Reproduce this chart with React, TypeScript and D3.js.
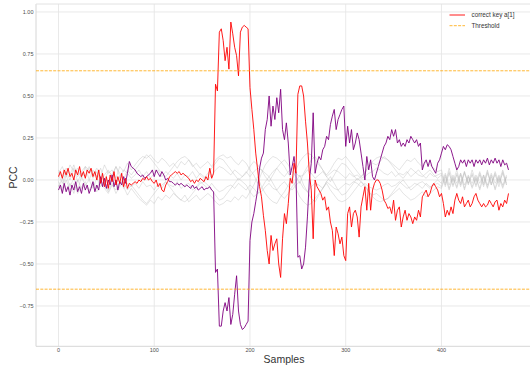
import React from 'react';
import * as d3 from 'd3';

const W = 530;
const H = 366;

const xTicks = [0, 100, 200, 300, 400];
const yTicks = [-0.75, -0.5, -0.25, 0, 0.25, 0.5, 0.75, 1.0];
const yTickLabels = ['\u22120.75', '\u22120.50', '\u22120.25', '0.00', '0.25', '0.50', '0.75', '1.00'];
const threshold = 0.65;
const nSamples = 471;

// correct key a[1] (red), PCC x100 at samples 0,2,4,...,470
const redVals = [
  2, 5, 1, 6, 3, 7, 2, 4, 0, 6,
  3, 8, 2, 5, 1, 6, 4, 7, 2, 5,
  0, 6, -2, 4, -4, 2, -5, 3, -1, 5,
  -3, 2, -2, 4, -4, 1, -5, -2, -3, -2,
  -1, -2, 0, -1, 1, 0, 2, 0, 1, -1,
  -2, 0, -4, -2, -6, -7, -3, -1, 2, 3,
  4, 5, 4, 5, 3, 4, 3, 2, 1, -1,
  0, -2, 0, -1, 1, 0, -1, 2, 0, 7,
  1, 4, 57, 53, 88, 90, 83, 71, 79, 66,
  94, 87, 79, 74, 62, 88, 91, 92, 91, 90,
  55, 42, 30, 16, 6, -4, -10, -21, -30, -42,
  -50, -33, -42, -38, -35, -50, -58, -35, -20, -26,
  -14, 1, -2, 10, 4, 51, 56, 56, 50, 35,
  22, 4, -6, -35, 0, -4, -6, -8, -12, -10,
  -18, -16, -25, -30, -45, -28, -32, -38, -34, -45,
  -48, -20, -16, -28, -20, -18, -22, -34, -16, -10,
  -4, -18, -2, -18, -6, -2, 0, 0, -2, -6,
  -12, -14, -17, -16, -20, -12, -24, -18, -16, -28,
  -22, -18, -24, -20, -22, -26, -22, -24, -18, -22,
  -10, -8, -6, -10, -8, -4, -2, -4, -6, -10,
  -8, -14, -22, -18, -21, -16, -20, -12, -8, -12,
  -14, -10, -16, -14, -12, -16, -14, -10, -8, -12,
  -14, -16, -14, -16, -15, -12, -14, -16, -13, -12,
  -18, -14, -16, -12, -14, -8,
];

// other key (purple), PCC x100 at samples 0,2,4,...,470
const purpleVals = [
  -6, -3, -8, -2, -7, -4, -9, -3, -6, -1,
  -7, -4, -8, -2, -6, -3, -8, -5, -1, -7,
  -3, -6, 2, -4, 1, -5, 0, -3, 3, -4,
  0, -6, -1, -3, 2, -2, 4, 11, 8, 7,
  6, 4, 3, 2, 3, 1, 2, 3, 4, 6,
  2, 6, 4, 2, 5, 3, 0, 1, -1, -1,
  -2, -3, -2, -3, -2, -3, -4, -3, -4, -5,
  -3, -5, -4, -6, -5, -4, -6, -5, -5, -4,
  -6, -7, -55, -53, -87, -87, -78, -73, -78, -70,
  -86, -80, -68, -57, -78, -86, -89, -88, -86, -84,
  -36, -25, -20, -13, -6, 7, 13, 16, 30, 36,
  50, 32, 44, 36, 49, 40, 54, 30, 24, 34,
  22, 3, 8, 14, 4, -46, -45, -53, -50, -40,
  -22, 0, 10, 40, 4, 10, 14, 12, 18, 20,
  26, 24, 33, 38, 42, 30, 36, 39, 42, 44,
  20, 32, 22, 30, 18, 22, 28, 24, 16, 8,
  0, 14, 6, 12, 2, 0, 4, 8, 12, 16,
  20, 22, 26, 24, 30, 26, 30, 22, 24, 20,
  22, 20, 24, 22, 26, 24, 22, 24, 20, 22,
  6, 10, 12, 8, 12, 8, 6, 4, 10, 12,
  16, 20, 18, 21, 20, 18, 14, 10, 6, 8,
  12, 10, 12, 8, 12, 10, 12, 8, 12, 10,
  12, 9, 12, 10, 13, 9, 12, 10, 13, 10,
  12, 8, 12, 9, 10, 6,
];

// remaining keys (gray), PCC x100 at samples 0,4,8,...,468
const gray1 = [
  4, 8, 2, 9, 5, 7, 1, 8, 6, 3,
  7, 2, 9, 4, 6, 1, 8, 5, 10, 6,
  9, 12, 14, 13, 15, 12, 10, 13, 11, 8,
  10, 7, 11, 9, 12, 8, 10, 7, 9, 11,
  8, 12, 14, 15, 13, 14, 11, 9, 12, 10,
  6, 3, -2, 4, 9, 12, 14, 13, 11, 8,
  4, 0, 6, 11, 14, 16, 15, 12, 9, 6,
  3, 6, 10, 13, 12, 14, 11, 8, 5, 2,
  4, 8, 11, 13, 14, 13, 12, 10, 8, 6,
  9, 12, 11, 13, 10, 8, 11, 9, 7, 5,
  6, -2, 7, -1, 6, -3, 5, -2, 6, -1,
  5, -2, 6, -3, 5, -1, 6, -2,
];
const gray2 = [
  -3, -7, 0, -6, -2, -8, -4, -1, -6, -3,
  -7, -2, -5, -8, -3, -6, -1, -4, -9, -5,
  -8, -11, -13, -15, -12, -14, -10, -12, -9, -11,
  -8, -10, -12, -9, -13, -11, -9, -12, -10, -8,
  -10, -13, -15, -14, -12, -13, -10, -12, -9, -11,
  -7, -3, 2, -4, -8, -11, -13, -14, -10, -7,
  -3, 1, -5, -10, -13, -15, -14, -11, -8, -5,
  -2, -6, -9, -12, -13, -12, -10, -7, -4, -1,
  -3, -7, -10, -12, -13, -12, -11, -9, -7, -5,
  -8, -10, -12, -11, -9, -7, -10, -8, -6, -4,
  -5, 2, -6, 1, -5, 3, -6, 2, -5, 1,
  -6, 2, -5, 3, -6, 1, -5, 2,
];
const gray3 = [
  6, 1, 7, 3, 9, 2, 5, 8, 0, 6,
  2, 7, 0, 5, 3, 8, 2, 6, 4, 1,
  3, 6, 2, 5, 1, 4, 6, 2, 5, 3,
  1, 4, 0, 3, 2, 5, 1, 4, 2, 0,
  3, 6, 8, 7, 5, 3, 6, 4, 2, 5,
  2, 5, 7, 6, 4, 2, 5, 7, 4, 2,
  5, 7, 4, 2, 3, 6, 4, 1, 3, 5,
  2, 4, 6, 5, 3, 1, 4, 2, 3, 1,
  2, 4, 5, 7, 6, 4, 3, 5, 2, 4,
  3, 5, 2, 4, 6, 3, 1, 4, 2, 3,
  4, -3, 5, -4, 4, -2, 5, -3, 4, -4,
  4, -3, 5, -2, 4, -4, 5, -3,
];
const gray4 = [
  -1, -5, 3, -4, 1, -6, 2, -3, 0, -5,
  1, -4, -1, -6, 0, -3, 2, -5, -2, -4,
  -2, -5, -1, -4, -3, -6, -2, -5, -1, -3,
  -4, -1, -5, -3, -2, -6, -4, -1, -3, -5,
  -2, -5, -7, -6, -4, -3, -5, -2, -4, -6,
  -3, -5, -8, -7, -4, -2, -5, -6, -3, -1,
  -4, -6, -3, -1, -5, -7, -4, -2, -3, -5,
  -1, -3, -5, -6, -4, -2, -3, -1, -2, -4,
  -2, -4, -5, -6, -5, -3, -2, -4, -3, -1,
  -3, -5, -4, -2, -3, -5, -2, -4, -3, -2,
  -4, 3, -5, 2, -4, 4, -5, 3, -4, 2,
  -5, 3, -4, 2, -5, 3, -4, 2,
];
const gray5 = [
  3, -2, 5, 0, 7, -1, 4, 2, 8, 1,
  5, -1, 3, 6, 2, 8, 4, 0, 6, 3,
  6, 9, 12, 15, 13, 10, 7, 4, 2, 5,
  8, 11, 13, 14, 12, 9, 6, 3, 1, 4,
  7, 10, 13, 12, 9, 6, 3, 0, 2, 4,
  8, 11, 9, 6, 2, -1, 3, 7, 10, 12,
  9, 5, 2, -2, 4, 8, 12, 14, 10, 6,
  2, -1, 3, 7, 10, 9, 6, 3, 0, 2,
  5, 8, 10, 9, 11, 14, 12, 9, 6, 3,
  1, 4, 7, 5, 3, 2, 4, 6, 3, 1,
  3, -4, 4, -3, 3, -4, 4, -2, 3, -3,
  3, -4, 4, -3, 3, -2, 4, -3,
];
const gray6 = [
  -4, 1, -6, -2, -8, 0, -5, -3, -7, -1,
  -5, 0, -3, -7, -2, -8, -4, -1, -6, -3,
  -6, -9, -12, -14, -11, -8, -5, -3, -1, -4,
  -7, -10, -12, -13, -11, -8, -5, -2, -1, -3,
  -6, -9, -12, -11, -8, -5, -2, 1, -1, -3,
  -7, -10, -8, -5, -1, 2, -2, -6, -9, -11,
  -8, -4, -1, 3, -3, -7, -11, -13, -9, -5,
  -1, 2, -2, -6, -9, -8, -5, -2, 1, -1,
  -4, -7, -9, -8, -10, -12, -11, -8, -5, -2,
  0, -3, -6, -4, -2, -1, -3, -5, -2, 0,
  -2, 4, -3, 3, -2, 4, -3, 2, -2, 3,
  -2, 3, -3, 4, -2, 2, -3, 3,
];
const grayKeys = [gray1, gray2, gray3, gray4, gray5, gray6];

const redSamples = d3.range(0, nSamples, 2);
const graySamples = d3.range(0, nSamples - 2, 4);

const plotLeft = 36;
const plotRight = 531;
const plotTop = 4;
const plotBottom = 346.3;

const xScale = d3.scaleLinear().domain([-23.5, 493.5]).range([plotLeft, plotRight]);
const yScale = d3.scaleLinear().domain([-0.99, 1.0476]).range([plotBottom, plotTop]);

const lineGen = d3
  .line<[number, number]>()
  .x((d) => xScale(d[0]))
  .y((d) => yScale(d[1] / 100));

function toPath(samples: number[], vals: number[]) {
  const pts: [number, number][] = vals.map((v, i) => [samples[i], v]);
  return lineGen(pts) || '';
}

const FONT = '"Liberation Sans", Arial, sans-serif';

export default function App() {
  return (
    <svg
      width={W}
      height={H}
      style={{ position: 'absolute', left: 0, top: 0, background: '#fff' }}
      fontFamily={FONT}
    >
      <defs>
        <clipPath id="plot">
          <rect x={plotLeft} y={plotTop} width={plotRight - plotLeft} height={plotBottom - plotTop} />
        </clipPath>
      </defs>
      <rect x={0} y={0} width={W} height={H} fill="#fff" />
      {/* grid */}
      {xTicks.map((t) => (
        <line key={'gx' + t} x1={xScale(t)} x2={xScale(t)} y1={plotTop} y2={plotBottom} stroke="#e6e6e6" strokeWidth={0.9} />
      ))}
      {yTicks.map((t) => (
        <line key={'gy' + t} x1={plotLeft} x2={plotRight} y1={yScale(t)} y2={yScale(t)} stroke="#e6e6e6" strokeWidth={0.9} />
      ))}
      {/* spines */}
      <line x1={plotLeft} x2={plotLeft} y1={plotTop} y2={plotBottom} stroke="#d6d6d6" strokeWidth={1} />
      <line x1={plotLeft} x2={plotRight} y1={plotBottom} y2={plotBottom} stroke="#d6d6d6" strokeWidth={1} />
      <line x1={plotLeft} x2={plotRight} y1={plotTop} y2={plotTop} stroke="#e2e2e2" strokeWidth={1} />

      <g clipPath="url(#plot)">
        {grayKeys.map((g, i) => (
          <path key={'g' + i} d={toPath(graySamples, g)} fill="none" stroke="#b8b8b8" strokeOpacity={0.55} strokeWidth={0.7} />
        ))}
        <path d={toPath(redSamples, purpleVals)} fill="none" stroke="#800080" strokeWidth={0.9} />
        <path d={toPath(redSamples, redVals)} fill="none" stroke="#ff0000" strokeWidth={0.9} />
        <line x1={plotLeft} x2={plotRight} y1={yScale(threshold)} y2={yScale(threshold)} stroke="#ffa500" strokeWidth={0.8} strokeDasharray="3,1.3" />
        <line x1={plotLeft} x2={plotRight} y1={yScale(-threshold)} y2={yScale(-threshold)} stroke="#ffa500" strokeWidth={0.8} strokeDasharray="3,1.3" />
      </g>

      {/* tick labels */}
      {yTicks.map((t, i) => (
        <text key={'yl' + t} x={33.5} y={yScale(t)} dy="0.35em" textAnchor="end" fontSize={5.5} fill="#4d4d4d">
          {yTickLabels[i]}
        </text>
      ))}
      {xTicks.map((t) => (
        <text key={'xl' + t} x={xScale(t)} y={352} textAnchor="middle" fontSize={5.5} fill="#4d4d4d">
          {String(t)}
        </text>
      ))}

      {/* axis labels */}
      <text x={284} y={362.5} textAnchor="middle" fontSize={10.5} fill="#333">Samples</text>
      <text transform={`translate(16.5,177.5) rotate(-90)`} textAnchor="middle" fontSize={10.5} fill="#333">PCC</text>

      {/* legend */}
      <line x1={449.5} x2={465} y1={15} y2={15} stroke="#ff0000" strokeWidth={0.9} />
      <text x={471.5} y={17.3} fontSize={6.3} fill="#333">correct key a[1]</text>
      <line x1={449.5} x2={465} y1={25.7} y2={25.7} stroke="#ffa500" strokeWidth={0.8} strokeDasharray="3,1.3" />
      <text x={471.5} y={28} fontSize={6.3} fill="#333">Threshold</text>
    </svg>
  );
}
